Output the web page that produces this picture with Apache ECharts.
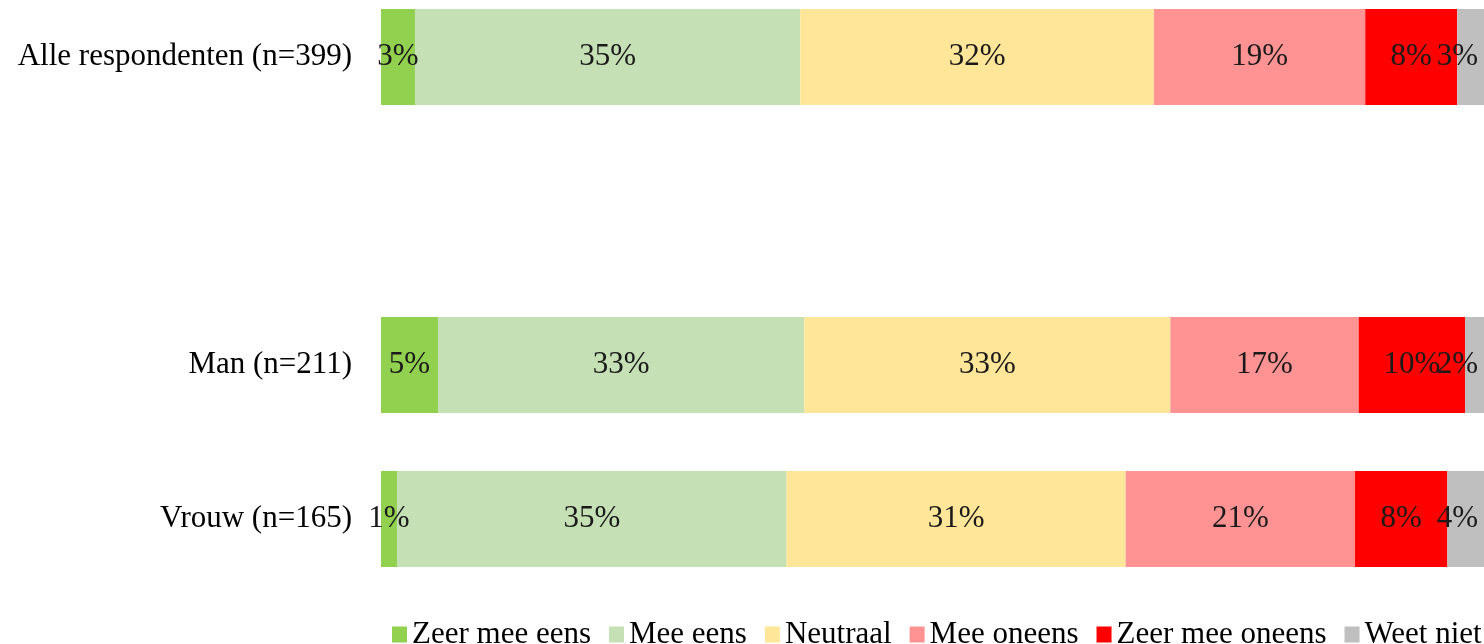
<!DOCTYPE html>
<html>
<head>
<meta charset="utf-8">
<title>Stellingen naar geslacht</title>
<script src="https://cdn.jsdelivr.net/npm/echarts@6/dist/echarts.min.js"></script>
<style>
  html, body { margin: 0; padding: 0; background: #fff; overflow: hidden; }
  /* de grafiek is in het origineel aan boven- en rechterkant afgesneden */
  #chart { position: absolute; left: 0; top: -20px; width: 1491px; height: 664px; }
</style>
</head>
<body>
<div id="chart"></div>
<script>
// categorieën (lege regel tussen totaal en uitsplitsing)
const categories = ['Alle respondenten (n=399)', '', 'Man (n=211)', 'Vrouw (n=165)']
const seriesNames = ['Zeer mee eens', 'Mee eens', 'Neutraal', 'Mee oneens', 'Zeer mee oneens', 'Weet niet']

// percentages per antwoord, volgorde = categories
const zeerMeeEens   = [3.06, null, 5.14, 1.44]
const meeEens       = [34.71, null, 33.0, 35.1]
const neutraal      = [31.86, null, 32.97, 30.55]
const meeOneens     = [19.04, null, 16.97, 20.66]
const zeerMeeOneens = [8.29, null, 9.58, 8.32]
const weetNiet      = [3.04, null, 2.34, 3.94]

const colors = ['#92D050', '#C5E0B4', '#FFE699', '#FF9393', '#FF0000', '#BFBFBF']
const values = [zeerMeeEens, meeEens, neutraal, meeOneens, zeerMeeOneens, weetNiet]

const font = '"Liberation Serif", "Times New Roman", serif'
const chart = echarts.init(document.getElementById('chart'))

chart.setOption({
  animation: false,
  color: colors,
  grid: { left: 381, right: 0, top: 0, bottom: 48 },
  xAxis: { type: 'value', min: 0, max: 100, show: false },
  yAxis: {
    type: 'category',
    inverse: true,
    data: categories,
    axisLine: { show: false },
    axisTick: { show: false },
    splitLine: { show: false },
    axisLabel: { margin: 29, color: '#000', fontSize: 31, fontFamily: font, padding: [4, 0, 0, 0] }
  },
  legend: {
    left: 387,
    top: 634,
    width: 1400,
    icon: 'rect',
    itemWidth: 15,
    itemHeight: 16,
    itemGap: 18,
    textStyle: { color: '#000', fontSize: 31, fontFamily: font },
    data: seriesNames
  },
  series: seriesNames.map((name, i) => ({
    name,
    type: 'bar',
    stack: 'totaal',
    barWidth: 96,
    data: values[i],
    label: {
      show: true,
      position: 'inside',
      offset: [0, 2],
      color: '#1a1a1a',
      fontSize: 31,
      fontFamily: font,
      formatter: p => Math.round(p.value) + '%'
    },
    // labels binnen de zichtbare rand houden
    labelLayout: p => {
      const r = p.labelRect
      const lim = 1478
      if (r.x + r.width > lim) return { dx: lim - (r.x + r.width) }
      return {}
    }
  }))
})
</script>
</body>
</html>
